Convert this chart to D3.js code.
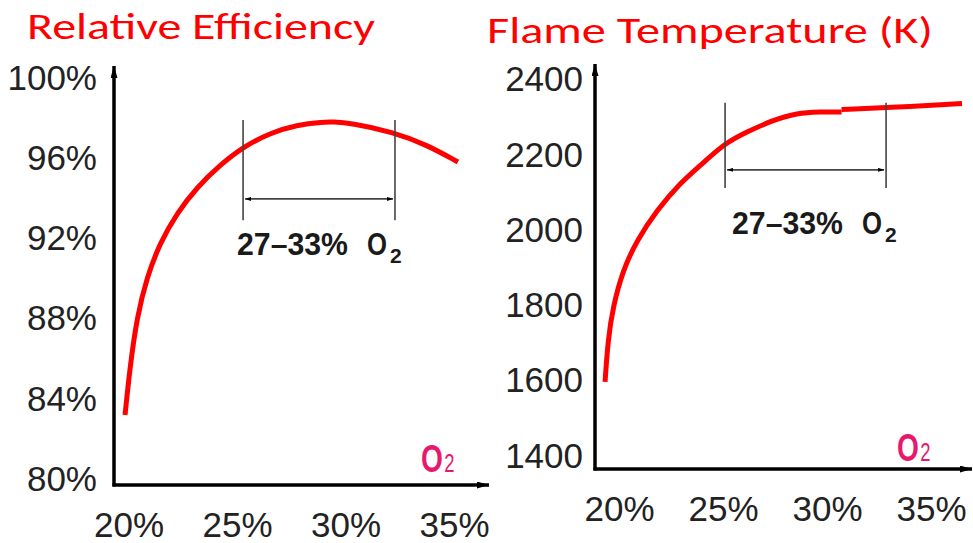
<!DOCTYPE html>
<html>
<head>
<meta charset="utf-8">
<script src="https://cdn.jsdelivr.net/npm/d3@7"></script>
<style>
  html, body { margin: 0; padding: 0; background: #fff; }
  svg { display: block; }
</style>
</head>
<body>
<svg id="chart" width="973" height="543"></svg>
<script>
// ---------------- DATA ----------------
const xTicks = [20, 25, 30, 35];
const effTicks = [80, 84, 88, 92, 96, 100];
const tempTicks = [1400, 1600, 1800, 2000, 2200, 2400];

const titleEff = "Relative Efficiency";
const titleTemp = "Flame Temperature (K)";
const rangeLabel = "27–33%";
const o2Label = "O";
const o2Sub = "2";

// Relative efficiency curve (O2 %, efficiency %)
const effO2  = [19.84, 20.07, 20.39, 20.85, 21.45, 22.24, 23.16, 24.22, 25.28, 26.52, 27.76, 28.96, 29.42, 30.21, 32.19, 33.76, 35.18];
const effVal = [83.19, 85.59, 88.08, 90.07, 91.77, 93.27, 94.56, 95.66, 96.56, 97.26, 97.66, 97.81, 97.81, 97.76, 97.31, 96.66, 95.81];

// Flame temperature curve (O2 %, K) — two pieces with a small step near 30.7 %
const tempO2A  = [19.33, 19.47, 19.71, 20.19, 20.87, 21.83, 22.93, 24.04, 25.10, 26.15, 27.40, 28.56, 29.66, 30.70];
const tempValA = [1597, 1708, 1796, 1894, 1974, 2053, 2125, 2178, 2231, 2261, 2292, 2311, 2314, 2314];
const tempO2B  = [30.70, 32.88, 36.49];
const tempValB = [2320, 2325, 2336];

// Bracket annotations: [left O2, right O2] and [top, bottom, arrow level]
const effBracketX  = [25.28, 32.28];
const effBracketY  = [97.9, 92.9, 93.97];
const tempBracketX = [25.10, 32.84];
const tempBracketY = [2338, 2112, 2160];

// ---------------- DRAWING ----------------
const svg = d3.select("#chart");
const defs = svg.append("defs");

function marker(id, w, h) {
  defs.append("marker")
    .attr("id", id)
    .attr("viewBox", `0 0 ${w} ${h}`)
    .attr("refX", w).attr("refY", h / 2)
    .attr("markerWidth", w).attr("markerHeight", h)
    .attr("markerUnits", "userSpaceOnUse")
    .attr("orient", "auto-start-reverse")
    .append("path")
    .attr("d", `M0,0L${w},${h / 2}L0,${h}Z`)
    .attr("fill", "#000");
}
marker("axArrow", 12, 7);
marker("brArrow", 6, 4);

const tickFont = "'Liberation Sans', Arial, sans-serif";

function panel(opts) {
  const { x, y, series, yTicks, yFmt, yPad, axisX, axisY, yTop, xEnd,
          bx, by, title, titleX, titleY, titleLen, textX, textY, o2X, o2Y } = opts;
  const g = svg.append("g");

  // title
  g.append("text")
    .attr("x", titleX).attr("y", titleY)
    .attr("fill", "#ff0000")
    .attr("font-family", "Carlito, 'Open Sans', Lato, sans-serif")
    .attr("font-weight", 400)
    .attr("font-size", 37)
    .attr("textLength", titleLen)
    .attr("lengthAdjust", "spacingAndGlyphs")
    .text(title);

  // y tick labels
  const yAxis = g.append("g")
    .attr("transform", `translate(${axisX},0)`)
    .call(d3.axisLeft(y).tickValues(yTicks).tickFormat(yFmt).tickSize(0).tickPadding(yPad));
  yAxis.select(".domain").remove();
  yAxis.selectAll("text")
    .attr("font-family", tickFont).attr("font-size", 35).attr("fill", "#222");

  // x tick labels
  const xAxis = g.append("g")
    .attr("transform", `translate(0,${axisY})`)
    .call(d3.axisBottom(x).tickValues(xTicks).tickFormat(d => d + "%").tickSize(0).tickPadding(27));
  xAxis.select(".domain").remove();
  xAxis.selectAll("text")
    .attr("font-family", tickFont).attr("font-size", 35).attr("fill", "#222");

  // axis lines with arrows
  g.append("line")
    .attr("x1", axisX).attr("y1", axisY + 1.5).attr("x2", axisX).attr("y2", yTop)
    .attr("stroke", "#000").attr("stroke-width", 3.5)
    .attr("marker-end", "url(#axArrow)");
  g.append("line")
    .attr("x1", axisX - 1.5).attr("y1", axisY).attr("x2", xEnd).attr("y2", axisY)
    .attr("stroke", "#000").attr("stroke-width", 3.5)
    .attr("marker-end", "url(#axArrow)");

  // curve
  const line = d3.line()
    .x(d => x(d[0])).y(d => y(d[1]))
    .curve(d3.curveBasis);
  series.forEach(([xs, ys]) => {
    g.append("path")
      .datum(d3.zip(xs, ys))
      .attr("d", line)
      .attr("fill", "none")
      .attr("stroke", "#ff0000")
      .attr("stroke-width", 5)
      .attr("stroke-linecap", "butt");
  });

  // bracket
  bx.forEach(v => {
    g.append("line")
      .attr("x1", x(v)).attr("x2", x(v))
      .attr("y1", y(by[0])).attr("y2", y(by[1]))
      .attr("stroke", "#444").attr("stroke-width", 1.6);
  });
  g.append("line")
    .attr("x1", x(bx[0]) + 2).attr("x2", x(bx[1]) - 2)
    .attr("y1", y(by[2])).attr("y2", y(by[2]))
    .attr("stroke", "#444").attr("stroke-width", 1.6)
    .attr("marker-start", "url(#brArrow)")
    .attr("marker-end", "url(#brArrow)");

  // bracket text
  const t = g.append("g")
    .attr("font-family", "'Liberation Sans', Arial, sans-serif")
    .attr("font-weight", "bold")
    .attr("fill", "#1a1a1a");
  t.append("text")
    .attr("x", textX).attr("y", textY)
    .attr("font-size", 31)
    .attr("textLength", 111).attr("lengthAdjust", "spacingAndGlyphs")
    .text(rangeLabel);
  t.append("text")
    .attr("x", textX + 130).attr("y", textY)
    .attr("font-size", 31)
    .attr("textLength", 20).attr("lengthAdjust", "spacingAndGlyphs")
    .text(o2Label);
  t.append("text")
    .attr("x", textX + 153).attr("y", textY + 8)
    .attr("font-size", 21)
    .text(o2Sub);

  // O2 axis label (single text, horizontally condensed)
  const o = g.append("text")
    .attr("transform", `translate(${o2X},${o2Y}) scale(0.74,1)`)
    .attr("font-family", "'Liberation Sans', Arial, sans-serif")
    .attr("font-weight", "bold")
    .attr("fill", "#e8186f");
  o.append("tspan").attr("font-size", 38).text(o2Label);
  o.append("tspan").attr("font-size", 25).attr("font-weight", "normal").attr("dx", 2).text(o2Sub);
}

// Left: relative efficiency
const xL = d3.scaleLinear().domain([20, 35]).range([128.5, 454]);
const yL = d3.scaleLinear().domain([80, 100]).range([479, 78]);
panel({
  x: xL, y: yL, series: [[effO2, effVal]],
  yTicks: effTicks, yFmt: d => d + "%", yPad: 17,
  axisX: 114, axisY: 485, yTop: 66, xEnd: 489,
  bx: effBracketX, by: effBracketY,
  title: titleEff, titleX: 27, titleY: 39, titleLen: 348,
  textX: 237, textY: 255, o2X: 421, o2Y: 472
});

// Right: flame temperature
const xR = d3.scaleLinear().domain([20, 35]).range([619, 931]);
const yR = d3.scaleLinear().domain([1400, 2400]).range([456, 79.5]);
panel({
  x: xR, y: yR, series: [[tempO2A, tempValA], [tempO2B, tempValB]],
  yTicks: tempTicks, yFmt: d => d, yPad: 12,
  axisX: 595, axisY: 469, yTop: 64, xEnd: 972,
  bx: tempBracketX, by: tempBracketY,
  title: titleTemp, titleX: 487, titleY: 43, titleLen: 446,
  textX: 732, textY: 234, o2X: 897, o2Y: 461
});
</script>
</body>
</html>
